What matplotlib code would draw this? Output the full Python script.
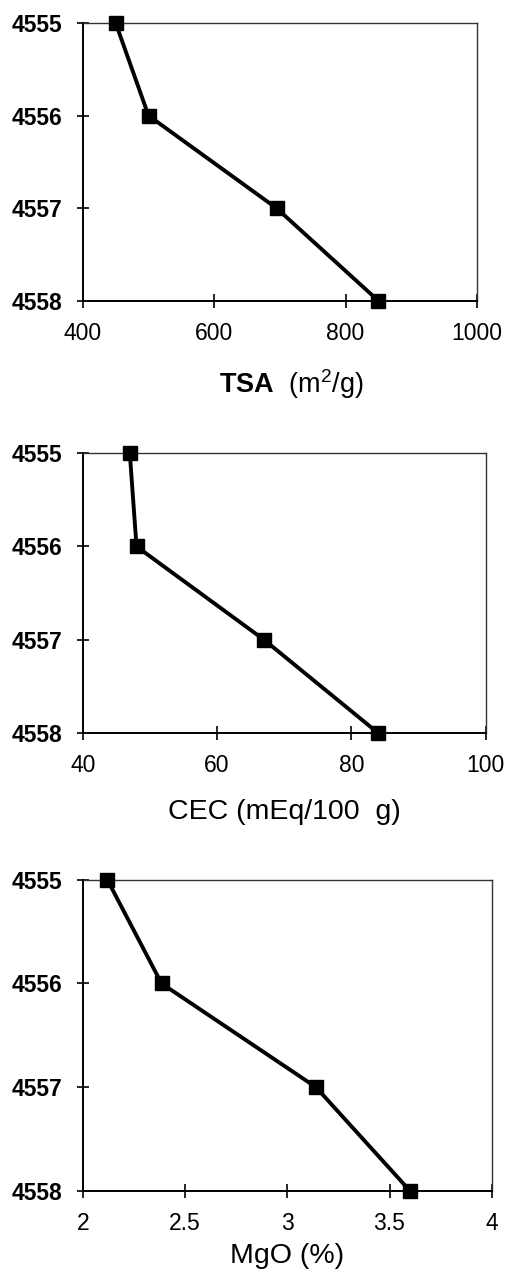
import matplotlib.pyplot as plt

plt.rcParams['font.family'] = ['Liberation Sans', 'DejaVu Sans']
plt.rcParams['mathtext.fontset'] = 'custom'
plt.rcParams['mathtext.rm'] = 'Liberation Sans'
plt.rcParams['mathtext.bf'] = 'Liberation Sans:bold'

# depth levels (shared y values of all three profiles)
depth = [4555, 4556, 4557, 4558]

# property values at each depth
tsa = [450, 500, 695, 850]
cec = [47, 48, 67, 84]
mgo = [2.12, 2.385, 3.14, 3.6]

tsa_ticks = [400, 600, 800, 1000]
cec_ticks = [40, 60, 80, 100]
mgo_ticks = [2, 2.5, 3, 3.5, 4]
mgo_ticklabels = ['2', '2.5', '3', '3.5', '4']

fig = plt.figure(figsize=(5.08, 12.75), dpi=100)

panels = [
    ([0.163, 0.764, 0.776, 0.218], tsa, tsa_ticks, None, (400, 1000)),
    ([0.163, 0.425, 0.793, 0.2196], cec, cec_ticks, None, (40, 100)),
    ([0.163, 0.066, 0.805, 0.244], mgo, mgo_ticks, mgo_ticklabels, (2, 4)),
]

axes = []
for rect, vals, xt, xtl, xl in panels:
    ax = fig.add_axes(rect)
    ax.plot(vals, depth, color='black', lw=2.8, marker='s', ms=10,
            markerfacecolor='black', clip_on=False, zorder=5)
    ax.set_xlim(*xl)
    ax.set_ylim(4558, 4555)
    ax.set_xticks(xt)
    if xtl:
        ax.set_xticklabels(xtl)
    ax.set_yticks(depth)
    ax.tick_params(axis='x', direction='inout', length=10, width=1.2,
                   labelsize=16.5, pad=10)
    ax.tick_params(axis='y', direction='inout', length=9, width=1.2,
                   labelsize=16.5, pad=10)
    for lbl in ax.get_yticklabels():
        lbl.set_fontweight('bold')
    for s in ['left', 'bottom']:
        ax.spines[s].set_linewidth(1.4)
    for s in ['top', 'right']:
        ax.spines[s].set_linewidth(1.0)
        ax.spines[s].set_color('#333333')
    axes.append(ax)

axes[0].set_xlabel(r'$\mathbf{TSA}$  (m$^2$/g)', fontsize=19.5, labelpad=16)
axes[0].xaxis.label.set_x(0.53)
axes[1].set_xlabel('CEC (mEq/100  g)', fontsize=20.5, labelpad=16)
axes[2].set_xlabel('MgO (%)', fontsize=20.5, labelpad=6)

fig.savefig('out.png', dpi=100)
